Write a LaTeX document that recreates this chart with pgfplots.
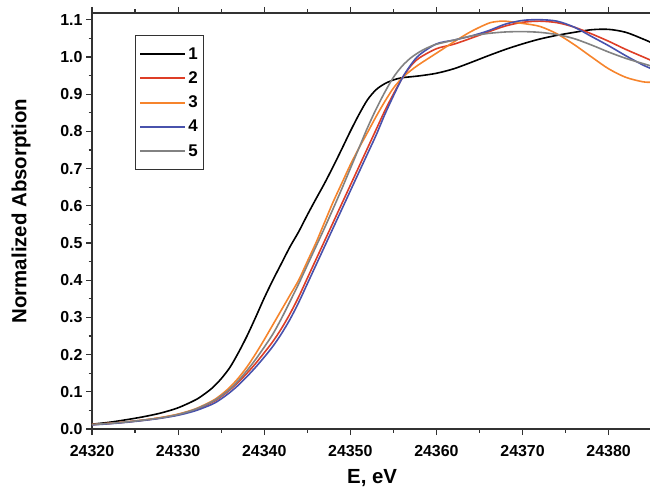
\documentclass[border=0pt]{standalone}
\usepackage{fontspec}
\setmainfont{Liberation Sans}
\usepackage{pgfplots}
\pgfplotsset{compat=1.18}

\definecolor{cred}{RGB}{222,62,38}
\definecolor{corange}{RGB}{246,132,44}
\definecolor{cblue}{RGB}{72,82,172}
\definecolor{cgray}{RGB}{130,130,130}
\definecolor{axgray}{RGB}{50,50,50}

\begin{document}
\begin{tikzpicture}
\begin{axis}[
  at={(0,0)}, anchor=south west,
  scale only axis,
  width=558bp, height=416bp,
  xmin=24320, xmax=24384.8,
  ymin=0, ymax=1.118,
  axis x line*=box, axis y line*=left,
  axis line style={axgray, line width=1.4bp},
  tick style={axgray, line width=1.2bp},
  tick align=outside,
  major tick length=6bp, minor tick length=3.5bp,
  xtick={24320,24330,...,24380},
  minor xtick={24325,24335,...,24385},
  ytick={0,0.1,...,1.1},
  minor ytick={0.05,0.15,...,1.05},
  scaled x ticks=false,
  x tick label style={/pgf/number format/set thousands separator={}, /pgf/number format/assume math mode=true, yshift=-7bp},
  y tick label style={/pgf/number format/fixed, /pgf/number format/fixed zerofill, /pgf/number format/precision=1, /pgf/number format/assume math mode=true},
  tick label style={font=\bfseries\fontsize{16}{19}\selectfont, text=black},
  xlabel={E, eV},
  ylabel={Normalized Absorption},
  label style={font=\bfseries\fontsize{20.5}{24}\selectfont},
  xlabel style={at={(axis description cs:0.502,-0.118)}, anchor=center},
  ylabel style={at={(axis description cs:-0.127,0.524)}, anchor=center},
  legend style={at={(axis description cs:0.077,0.947)}, anchor=north west,
    draw=axgray, line width=1bp, font=\bfseries\fontsize{17}{20}\selectfont,
    row sep=7bp, inner xsep=4bp, inner ysep=10bp},
  legend cell align=left,
  legend image code/.code={\draw[#1, line width=1.8bp] (0bp,0bp) -- (45bp,0bp);},
  every axis plot/.append style={line width=1.6bp, smooth},
]

% 1
\addplot[black] coordinates {
(24320,0.013) (24322,0.018) (24324,0.025) (24326,0.033) (24328,0.043)
(24330,0.057) (24332,0.078) (24333,0.093) (24334,0.111) (24335,0.135)
(24336,0.165) (24337,0.205) (24338,0.25) (24339,0.30) (24340,0.352)
(24341,0.40) (24342,0.445) (24343,0.49) (24344,0.53) (24345,0.575)
(24346,0.618) (24347,0.66) (24348,0.705) (24349,0.752) (24350,0.80)
(24351,0.845) (24352,0.885) (24353,0.912) (24354,0.928) (24355,0.938)
(24356,0.944) (24358,0.949) (24360,0.956) (24362,0.968) (24364,0.985)
(24366,1.003) (24368,1.02) (24370,1.035) (24372,1.048) (24374,1.058)
(24376,1.066) (24378,1.073) (24380,1.074) (24382,1.066) (24384,1.048)
(24385,1.038)};

% 2
\addplot[cred] coordinates {
(24320,0.012) (24322,0.015) (24324,0.019) (24326,0.024) (24328,0.030)
(24330,0.039) (24332,0.052) (24334,0.072) (24335,0.087) (24336,0.105)
(24337,0.126) (24338,0.150) (24339,0.176) (24340,0.205) (24341,0.235)
(24342,0.27) (24343,0.31) (24344,0.355) (24345,0.405) (24346,0.455)
(24347,0.505) (24348,0.555) (24349,0.605) (24350,0.655) (24351,0.705)
(24352,0.755) (24353,0.805) (24354,0.855) (24355,0.90) (24356,0.942)
(24357,0.975) (24358,0.997) (24360,1.022) (24362,1.034) (24364,1.05)
(24366,1.067) (24368,1.083) (24370,1.093) (24372,1.096) (24374,1.092)
(24376,1.08) (24378,1.062) (24380,1.042) (24382,1.02) (24384,1.0)
(24385,0.99)};

% 3
\addplot[corange] coordinates {
(24320,0.012) (24322,0.015) (24324,0.019) (24326,0.024) (24328,0.031)
(24330,0.040) (24332,0.054) (24334,0.076) (24335,0.092) (24336,0.112)
(24337,0.137) (24338,0.167) (24339,0.202) (24340,0.24) (24341,0.28)
(24342,0.32) (24343,0.36) (24344,0.40) (24345,0.45) (24346,0.50)
(24347,0.555) (24348,0.61) (24349,0.66) (24350,0.71) (24351,0.755)
(24352,0.797) (24353,0.84) (24354,0.88) (24355,0.916) (24356,0.943)
(24357,0.963) (24358,0.98) (24360,1.01) (24362,1.04) (24364,1.068)
(24366,1.09) (24367,1.095) (24368,1.096) (24370,1.09) (24372,1.082)
(24374,1.062) (24376,1.033) (24378,1.0) (24380,0.968) (24382,0.945)
(24384,0.933) (24385,0.932)};

% 4
\addplot[cblue] coordinates {
(24320,0.011) (24322,0.014) (24324,0.018) (24326,0.023) (24328,0.029)
(24330,0.037) (24332,0.049) (24334,0.067) (24335,0.081) (24336,0.098)
(24337,0.118) (24338,0.141) (24339,0.166) (24340,0.193) (24341,0.222)
(24342,0.256) (24343,0.295) (24344,0.34) (24345,0.39) (24346,0.44)
(24347,0.49) (24348,0.54) (24349,0.59) (24350,0.64) (24351,0.69)
(24352,0.74) (24353,0.79) (24354,0.845) (24355,0.895) (24356,0.942)
(24357,0.978) (24358,1.005) (24360,1.035) (24362,1.045) (24364,1.056)
(24366,1.07) (24368,1.088) (24370,1.098) (24372,1.10) (24374,1.096)
(24376,1.08) (24378,1.055) (24380,1.03) (24382,1.003) (24384,0.978)
(24385,0.968)};

% 5
\addplot[cgray] coordinates {
(24320,0.012) (24322,0.015) (24324,0.019) (24326,0.024) (24328,0.030)
(24330,0.039) (24332,0.053) (24334,0.074) (24335,0.089) (24336,0.107)
(24337,0.13) (24338,0.157) (24339,0.187) (24340,0.22) (24341,0.255)
(24342,0.297) (24343,0.343) (24344,0.39) (24345,0.44) (24346,0.49)
(24347,0.54) (24348,0.592) (24349,0.645) (24350,0.70) (24351,0.755)
(24352,0.81) (24353,0.86) (24354,0.905) (24355,0.945) (24356,0.975)
(24357,0.997) (24358,1.013) (24359,1.025) (24360,1.034) (24362,1.045)
(24364,1.056) (24366,1.063) (24368,1.067) (24370,1.068) (24372,1.066)
(24374,1.06) (24376,1.049) (24378,1.032) (24380,1.013) (24382,0.996)
(24384,0.982) (24385,0.975)};

\legend{1,2,3,4,5}
\end{axis}
\pgfresetboundingbox
\useasboundingbox (-92bp,-61bp) rectangle (558bp,429bp);
\end{tikzpicture}
\end{document}
